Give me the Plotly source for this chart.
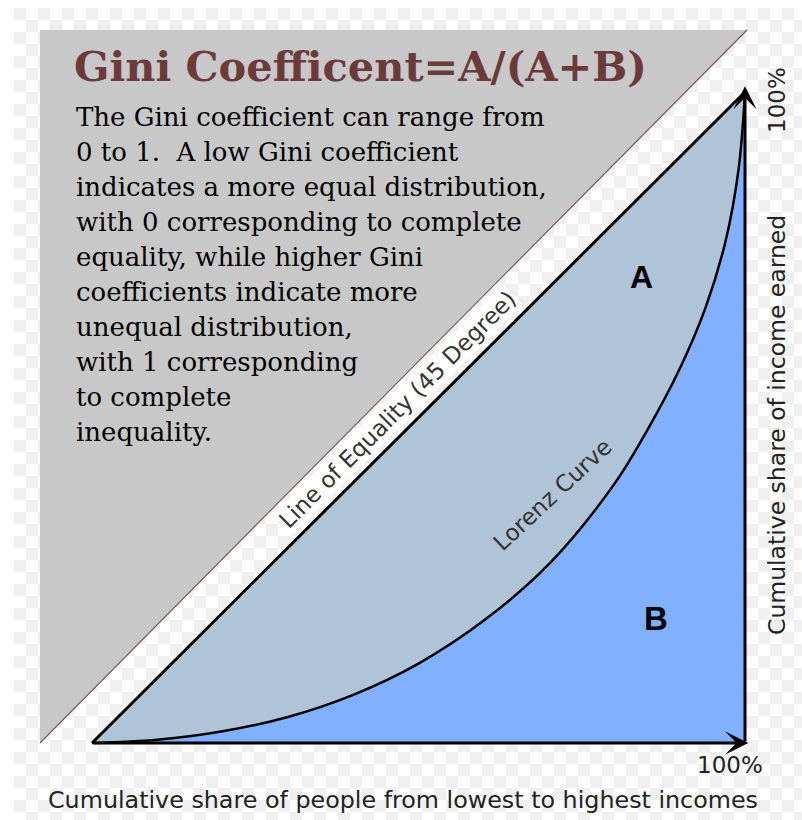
import plotly.graph_objects as go

# cumulative share of people (%) and of income (%)
people_share = [0, 10, 20, 30, 40, 50, 60, 70, 80, 85, 90, 94, 97, 99, 100]
income_share = [0, 0.5, 1.8, 4, 7.4, 12.2, 18.8, 27.5, 39.8, 48, 57.5, 67, 77, 88, 100]

equality_x = [0, 100]
equality_y = [0, 100]

title = "Gini Coefficent=A/(A+B)"
blurb = [
    "The Gini coefficient can range from",
    "0 to 1.  A low Gini coefficient",
    "indicates a more equal distribution,",
    "with 0 corresponding to complete",
    "equality, while higher Gini",
    "coefficients indicate more",
    "unequal distribution,",
    "with 1 corresponding",
    "to complete",
    "inequality.",
]
x_label = "Cumulative share of people from lowest to highest incomes"
y_label = "Cumulative share of income earned"

W, H = 802, 820
SANS = "DejaVu Sans, Verdana, sans-serif"
SERIF = "DejaVu Serif, serif"

fig = go.Figure()

# transparent-background checkerboard (decoration only)
cell = 12
ncols, nrows = 66, 68
checker = [[(i + j) % 2 == 0 for j in range(ncols)] for i in range(nrows)]
fig.add_trace(go.Heatmap(
    z=[[1 if c else 0 for c in row] for row in checker],
    x0=14 + cell / 2, dx=cell, y0=8 + cell / 2, dy=cell,
    colorscale=[[0, "#ffffff"], [1, "#efefef"]], showscale=False,
    hoverinfo="skip", xaxis="x", yaxis="y"))

# grey corner panel behind the text
fig.add_trace(go.Scatter(x=[40, 747, 40, 40], y=[30, 30, 743, 30], mode="lines",
                         fill="toself", fillcolor="#c8c8c8", line=dict(width=0),
                         hoverinfo="skip", xaxis="x", yaxis="y"))
fig.add_trace(go.Scatter(x=[747, 40], y=[30, 743], mode="lines",
                         line=dict(color="#7d5b5b", width=1.2),
                         hoverinfo="skip", xaxis="x", yaxis="y"))

# area A (whole triangle under the equality line)
fig.add_trace(go.Scatter(x=equality_x + [100, 0], y=equality_y + [0, 0], mode="lines",
                         fill="toself", fillcolor="#b0c4d8", line=dict(width=0),
                         hoverinfo="skip", xaxis="x2", yaxis="y2"))
# Lorenz curve, area B filled beneath it
fig.add_trace(go.Scatter(x=people_share, y=income_share, mode="lines", line_shape="spline",
                         fill="tozeroy", fillcolor="#80b0ff",
                         line=dict(color="black", width=2.5), xaxis="x2", yaxis="y2"))
fig.add_trace(go.Scatter(x=equality_x, y=equality_y, mode="lines",
                         line=dict(color="black", width=3), xaxis="x2", yaxis="y2"))

anns = []
# axis arrows
for tip, tail in [((100, 100.9), (100, 0)), ((100.5, 0), (0, 0))]:
    anns.append(dict(x=tip[0], y=tip[1], ax=tail[0], ay=tail[1], xref="x2", yref="y2",
                     axref="x2", ayref="y2", text="", showarrow=True, arrowhead=3,
                     arrowsize=1.3, arrowwidth=3, arrowcolor="black"))

anns.append(dict(x=72, y=66, xref="x", yref="y", text=title, showarrow=False,
                 xanchor="left", yanchor="middle",
                 font=dict(family=SERIF, size=41.5, color="#6b3b3b", weight="bold")))
for i, line in enumerate(blurb):
    anns.append(dict(x=74, y=117 + i * 35, xref="x", yref="y", text=line, showarrow=False,
                     xanchor="left", yanchor="middle",
                     font=dict(family=SERIF, size=26, color="black")))

anns.append(dict(x=397, y=410, xref="x", yref="y", text="Line of Equality (45 Degree)",
                 showarrow=False, textangle=-45, bgcolor="white",
                 font=dict(family=SANS, size=23, color="#333333")))
anns.append(dict(x=552, y=495, xref="x", yref="y", text="Lorenz Curve", showarrow=False,
                 textangle=-43, font=dict(family=SANS, size=23, color="#333333")))
anns.append(dict(x=641, y=277, xref="x", yref="y", text="<b>A</b>", showarrow=False,
                 font=dict(family="Liberation Sans, Arial", size=32, color="black")))
anns.append(dict(x=656, y=618, xref="x", yref="y", text="<b>B</b>", showarrow=False,
                 font=dict(family="Liberation Sans, Arial", size=33, color="black")))
anns.append(dict(x=730, y=765, xref="x", yref="y", text="100%", showarrow=False,
                 font=dict(family=SANS, size=23, color="#222222")))
anns.append(dict(x=777, y=100, xref="x", yref="y", text="100%", showarrow=False,
                 textangle=-90, font=dict(family=SANS, size=23, color="#222222")))
anns.append(dict(x=403, y=800, xref="x", yref="y", text=x_label, showarrow=False,
                 font=dict(family=SANS, size=23.8, color="#222222")))
anns.append(dict(x=777, y=425, xref="x", yref="y", text=y_label, showarrow=False,
                 textangle=-90, font=dict(family=SANS, size=23.5, color="#222222")))

# percent axes: 0..100 maps onto pixels 92..745 (x) and 743..92 (y)
sx, sy = 6.53, 6.51
fig.update_layout(
    width=W, height=H, margin=dict(l=0, r=0, t=0, b=0),
    paper_bgcolor="white", plot_bgcolor="white", showlegend=False,
    xaxis=dict(range=[0, W], visible=False, fixedrange=True),
    yaxis=dict(range=[H, 0], visible=False, fixedrange=True),
    xaxis2=dict(range=[-92 / sx, (W - 92) / sx], overlaying="x", visible=False, fixedrange=True),
    yaxis2=dict(range=[-(H - 743) / sy, 743 / sy], overlaying="y", visible=False, fixedrange=True),
    annotations=anns,
)

fig.write_html("out.html", config={"displayModeBar": False},
               post_script="document.body.style.margin='0';document.body.style.overflow='hidden';")
